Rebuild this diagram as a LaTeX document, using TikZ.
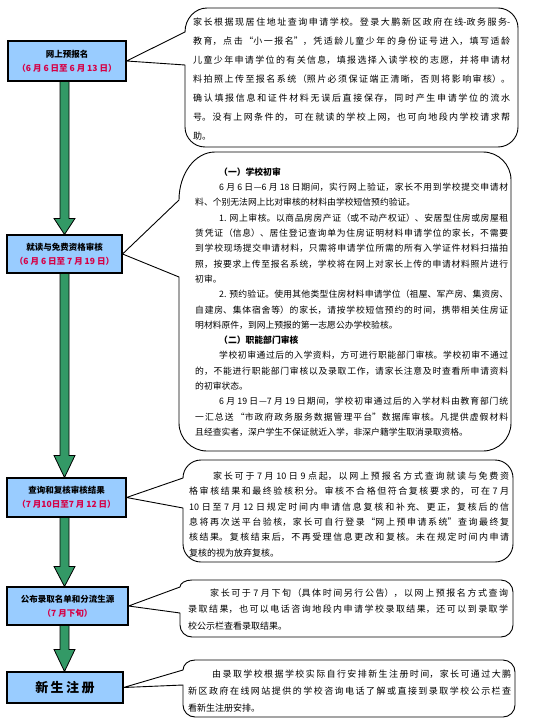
\documentclass[tikz,border=0pt]{standalone}
\usepackage{fontspec}
\setmainfont{Noto Sans CJK SC}
\usetikzlibrary{calc}
\XeTeXlinebreaklocale "zh"
\XeTeXlinebreakskip=0pt plus 3pt
\setlength\parindent{0pt}
\setlength\parskip{0pt}
\tolerance=9999
\definecolor{boxblue}{RGB}{153,204,255}
\definecolor{arrgreen}{RGB}{51,153,102}
\definecolor{datered}{RGB}{214,0,70}
\tikzset{
 stepbox/.style={draw=black, line width=1.1pt, fill=boxblue, align=center, inner sep=0pt, font=\fontsize{8.5}{14}\selectfont\bfseries},
 calloutline/.style={draw=black, line width=0.9pt, line join=round},
 arrowshape/.style={draw=black, line width=0.8pt, fill=arrgreen},
 ctext/.style={anchor=north west, inner sep=0pt, align=justify},
}
% #1 L, #2 T, #3 R, #4 B, #5 r, #6 a (top-left vertical), #7 b (top-left horizontal), #8 lower attach y, #9 tip node
\newcommand\mycallout[9]{%
\draw[calloutline] (#9.east) -- (#1,#2+#6)
 .. controls (#1,#2+0.448*#6) and (#1+0.448*#7,#2) .. (#1+#7,#2)
 -- (#3-#5,#2)
 .. controls (#3-0.448*#5,#2) and (#3,#2+0.448*#5) .. (#3,#2+#5)
 -- (#3,#4-#5)
 .. controls (#3,#4-0.448*#5) and (#3-0.448*#5,#4) .. (#3-#5,#4)
 -- (#1+#5,#4)
 .. controls (#1+0.448*#5,#4) and (#1,#4-0.448*#5) .. (#1,#4-#5)
 -- (#1,#8) -- cycle;}
% #1 from node, #2 to node, #3 head length
\newcommand\bigarrow[3]{%
\draw[arrowshape] let \p1=(#1.south), \p2=(#2.north) in
 (60pt,\y1) -- (60pt,\y2+#3) -- (54pt,\y2+#3) -- (64.5pt,\y2) -- (75pt,\y2+#3) -- (69pt,\y2+#3) -- (69pt,\y1) -- cycle;}
\newcommand\dt[1]{\textcolor{datered}{#1}}
\begin{document}
\begin{tikzpicture}[x=1pt,y=-1pt]
\useasboundingbox (0,0) rectangle (537,722);
\fill[white] (0,0) rectangle (537,722);

% left step boxes
\node[stepbox, minimum width=118pt, minimum height=40pt] (b1) at (67,61) {网上预报名\\\dt{（6 月 6 日至 6 月 13 日）}};
\node[stepbox, minimum width=115pt, minimum height=38pt] (b2) at (64.5,254) {就读与免费资格审核\\\dt{（6 月 6 日至 7 月 19 日）}};
\node[stepbox, minimum width=119pt, minimum height=39pt] (b3) at (66.5,497.5) {查询和复核审核结果\\\dt{（7 月10日至7 月 12 日）}};
\node[stepbox, minimum width=121pt, minimum height=38pt] (b4) at (67.5,606) {公布录取名单和分流生源\\\dt{（7 月下旬）}};
\node[stepbox, minimum width=116pt, minimum height=31pt, font=\fontsize{13}{15}\selectfont\bfseries] (b5) at (65,687.5) {新\hspace{2.5pt}生\hspace{2.5pt}注\hspace{2.5pt}册};

% arrows
\bigarrow{b1}{b2}{16pt}
\bigarrow{b2}{b3}{22pt}
\bigarrow{b3}{b4}{20pt}
\bigarrow{b4}{b5}{22pt}

% callouts
\mycallout{185}{8}{518}{147}{20}{24}{22}{65}{b1}
\mycallout{179}{152}{511}{451}{28}{48}{36}{277}{b2}
\mycallout{183}{460}{513}{562}{18}{18}{18}{508}{b3}
\mycallout{180}{580}{513}{637}{12}{7}{12}{613}{b4}
\mycallout{183}{660}{515}{717}{12}{10}{12}{685}{b5}

% callout texts
\node[ctext, text width=317pt, font=\fontsize{9}{19}\selectfont] (t1) at (193,18) {家长根据现居住地址查询申请学校。登录大鹏新区政府在线-政务服务-\linebreak
教育，点击“小一报名”，凭适龄儿童少年的身份证号进入，填写适龄\linebreak
儿童少年申请学位的有关信息，填报选择入读学校的志愿，并将申请材\linebreak
料拍照上传至报名系统（照片必须保证端正清晰，否则将影响审核）。\linebreak
确认填报信息和证件材料无误后直接保存，同时产生申请学位的流水\linebreak
号。没有上网条件的，可在就读的学校上网，也可向地段内学校请求帮\linebreak
助。};

\node[ctext, text width=313pt, font=\fontsize{8.8}{15.3}\selectfont] (t2) at (195,167.5) {\hspace*{24pt}{\bfseries （一）学校初审}\par
\hspace*{24pt}6 月 6 日—6 月 18 日期间，实行网上验证，家长不用到学校提交申请材\linebreak
料、个别无法网上比对审核的材料由学校短信预约验证。\par
\hspace*{24pt}1. 网上审核。以商品房房产证（或不动产权证）、安居型住房或房屋租\linebreak
赁凭证（信息）、居住登记查询单为住房证明材料申请学位的家长，不需要\linebreak
到学校现场提交申请材料，只需将申请学位所需的所有入学证件材料扫描拍\linebreak
照，按要求上传至报名系统，学校将在网上对家长上传的申请材料照片进行\linebreak
初审。\par
\hspace*{24pt}2. 预约验证。使用其他类型住房材料申请学位（祖屋、军产房、集资房、\linebreak
自建房、集体宿舍等）的家长，请按学校短信预约的时间，携带相关住房证\linebreak
明材料原件，到网上预报的第一志愿公办学校验核。\par
\hspace*{24pt}{\bfseries （二）职能部门审核}\par
\hspace*{24pt}学校初审通过后的入学资料，方可进行职能部门审核。学校初审不通过\linebreak
的，不能进行职能部门审核以及录取工作，请家长注意及时查看所申请资料\linebreak
的初审状态。\par
\hspace*{24pt}6 月 19 日—7 月 19 日期间，学校初审通过后的入学材料由教育部门统\linebreak
一汇总送 “市政府政务服务数据管理平台”数据库审核。凡提供虚假材料\linebreak
且经查实者，深户学生不保证就近入学，非深户籍学生取消录取资格。};

\node[ctext, text width=320pt, font=\fontsize{9}{15.4}\selectfont] (t3) at (189,471.5) {\hspace*{24pt}家长可于 7 月 10 日 9 点起，以网上预报名方式查询就读与免费资\linebreak
格审核结果和最终验核积分。审核不合格但符合复核要求的，可在 7 月\linebreak
10 日至 7 月 12 日规定时间内申请信息复核和补充、更正，复核后的信\linebreak
息将再次送平台验核，家长可自行登录“网上预申请系统”查询最终复\linebreak
核结果。复核结束后，不再受理信息更改和复核。未在规定时间内申请\linebreak
复核的视为放弃复核。};

\node[ctext, text width=320pt, font=\fontsize{9}{16.5}\selectfont] (t4) at (188,588.5) {\hspace*{22pt}家长可于 7 月下旬（具体时间另行公告），以网上预报名方式查询\linebreak
录取结果，也可以电话咨询地段内申请学校录取结果，还可以到录取学\linebreak
校公示栏查看录取结果。};

\node[ctext, text width=323pt, font=\fontsize{9}{17}\selectfont] (t5) at (188,669.5) {\hspace*{24pt}由录取学校根据学校实际自行安排新生注册时间，家长可通过大鹏\linebreak
新区政府在线网站提供的学校咨询电话了解或直接到录取学校公示栏查\linebreak
看新生注册安排。};
\end{tikzpicture}
\end{document}
